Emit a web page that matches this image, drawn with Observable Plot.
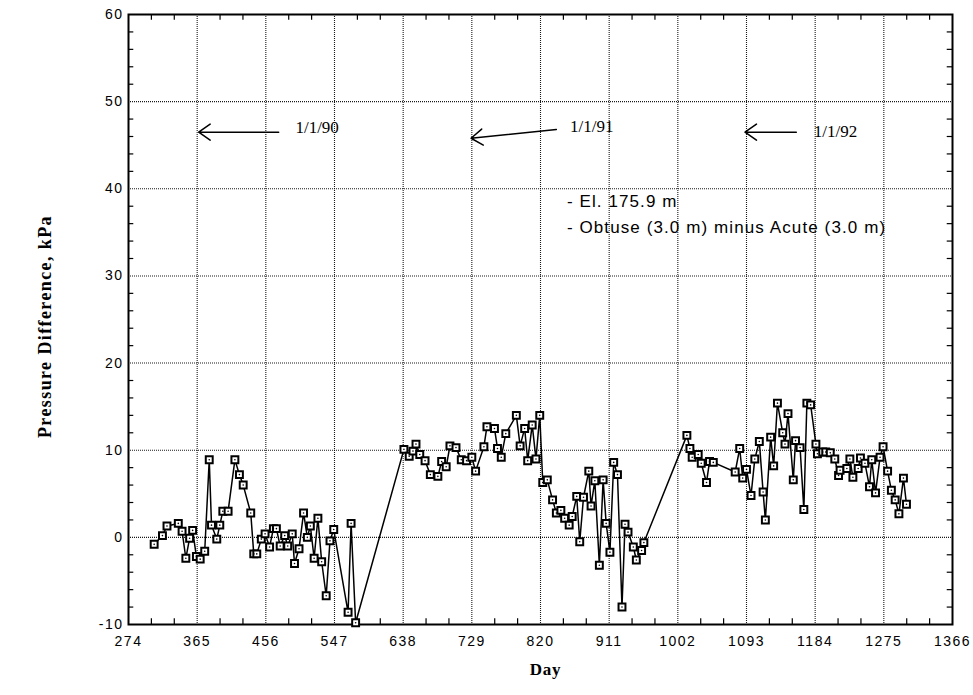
<!DOCTYPE html>
<html>
<head>
<meta charset="utf-8">
<script src="https://cdn.jsdelivr.net/npm/d3@7"></script>
<script src="https://cdn.jsdelivr.net/npm/@observablehq/plot@0.6"></script>
<style>
  html, body { margin: 0; padding: 0; background: #fff; }
  g[aria-label="x-axis tick label"] text, g[aria-label="y-axis tick label"] text { letter-spacing: 1.5px; }
</style>
</head>
<body>
<div id="chart"></div>
<script>
// ---- data ----
const days = [308, 319, 325, 340, 345, 350, 355, 359, 364, 369, 375, 381, 384, 391, 395, 399, 406, 415, 421, 426, 436, 440, 444, 450, 455, 461, 466, 470, 475, 481, 485, 491, 494, 500, 506, 511, 515, 520, 525, 530, 536, 541, 546, 565, 569, 575,
  639, 646, 651, 655, 660, 667, 674, 684, 689, 695, 700, 708, 715, 722, 729, 734, 745, 749, 759, 763, 768, 774, 788, 793, 799, 803, 809, 814, 819, 823, 829, 836, 841, 847, 852, 858, 862, 868, 872, 877, 884, 887, 892, 898, 903, 907, 912, 917, 922, 928, 932, 936, 943, 947, 954, 957,
  1014, 1018, 1021, 1029, 1033, 1040, 1044, 1049, 1078, 1084, 1088, 1093, 1099, 1104, 1110, 1115, 1118, 1125, 1129, 1134, 1141, 1144, 1148, 1155, 1158, 1164, 1169, 1173, 1178, 1185, 1187, 1194, 1198, 1204, 1210, 1215, 1217, 1226, 1230, 1234, 1241, 1244, 1250, 1256, 1259, 1264, 1270, 1274, 1280, 1285, 1290, 1295, 1301, 1305];
const kPa = [-0.8, 0.2, 1.3, 1.6, 0.7, -2.4, -0.1, 0.8, -2.2, -2.5, -1.6, 8.9, 1.4, -0.2, 1.4, 3.0, 3.0, 8.9, 7.2, 6.0, 2.8, -1.9, -1.9, -0.2, 0.4, -1.1, 1.0, 1.0, -1.0, 0.2, -1.0, 0.4, -3.0, -1.3, 2.8, 0.0, 1.3, -2.4, 2.2, -2.8, -6.7, -0.4, 0.9, -8.6, 1.6, -9.8,
  10.1, 9.3, 9.9, 10.7, 9.5, 8.8, 7.2, 7.0, 8.7, 8.1, 10.5, 10.3, 8.9, 8.8, 9.2, 7.6, 10.4, 12.7, 12.5, 10.2, 9.2, 11.9, 14.0, 10.5, 12.5, 8.8, 12.9, 9.0, 14.0, 6.3, 6.6, 4.3, 2.8, 3.1, 2.2, 1.4, 2.4, 4.7, -0.5, 4.6, 7.6, 3.6, 6.5, -3.2, 6.6, 1.6, -1.7, 8.6, 7.2, -8.0, 1.5, 0.6, -1.1, -2.6, -1.5, -0.6,
  11.7, 10.2, 9.2, 9.5, 8.5, 6.3, 8.7, 8.6, 7.5, 10.2, 6.8, 7.8, 4.8, 9.0, 11.0, 5.2, 2.0, 11.5, 8.2, 15.4, 12.0, 10.7, 14.2, 6.6, 11.1, 10.3, 3.2, 15.4, 15.2, 10.7, 9.6, 9.8, 9.8, 9.7, 9.0, 7.1, 7.7, 7.9, 9.0, 6.9, 7.9, 9.1, 8.5, 5.8, 8.9, 5.1, 9.2, 10.4, 7.6, 5.4, 4.3, 2.7, 6.8, 3.8];

const xTicks = [274, 365, 456, 547, 638, 729, 820, 911, 1002, 1093, 1184, 1275, 1366];
const yTicks = [-10, 0, 10, 20, 30, 40, 50, 60];

// annotations: date arrows (tip day/value, tail day/value, label anchor)
const dateLabels = ["1/1/90", "1/1/91", "1/1/92"];
const arrowTipDay = [367, 728, 1091];
const arrowTipVal = [46.5, 45.8, 46.5];
const arrowTailDay = [473, 841, 1159];
const arrowTailVal = [46.5, 46.8, 46.5];
const labelDay = [524, 888, 1211];
const labelVal = [47.0, 47.1, 46.6];
const noteLines = ["- El. 175.9 m", "- Obtuse (3.0 m) minus Acute (3.0 m)"];
const noteVal = [38.5, 35.6];
const noteDay = 855;
const yTitle = "Pressure Difference, kPa";
const xTitle = "Day";

// ---- build tables ----
const points = days.map((d, i) => ({day: d, kPa: kPa[i]}));
const arrows = dateLabels.map((t, i) => ({t, x1: arrowTailDay[i], y1: arrowTailVal[i], x2: arrowTipDay[i], y2: arrowTipVal[i], lx: labelDay[i], ly: labelVal[i]}));
const notes = noteLines.map((t, i) => ({t, x: noteDay, y: noteVal[i]}));
const yMinor = d3.range(-10, 61, 2).filter(v => v % 10 !== 0);
const xMinor = d3.range(0, 37).filter(i => i % 3 !== 0).map(i => 274 + i * 91 / 3);

const grid = {stroke: "#000", strokeWidth: 1.1, strokeOpacity: 0.9, strokeDasharray: "1,1"};
const serif = "'Liberation Serif', 'Times New Roman', serif";

const chart = Plot.plot({
  width: 973,
  height: 695,
  marginLeft: 128,
  marginRight: 21,
  marginTop: 14,
  marginBottom: 71,
  style: {fontFamily: "'Liberation Sans', Arial, sans-serif", fontSize: "14px", color: "#000", background: "#fff"},
  x: {domain: [274, 1366]},
  y: {domain: [-10, 60]},
  marks: [
    Plot.ruleX(xTicks.slice(1, -1), grid),
    Plot.ruleY(yTicks.slice(1, -1), grid),
    Plot.ruleY(yMinor, {x1: 274, x2: 281, stroke: "#000", strokeWidth: 1.2}),
    Plot.ruleY(yMinor, {x1: 1359, x2: 1366, stroke: "#000", strokeWidth: 1.2}),
    Plot.ruleX(xMinor, {y1: -10, y2: -9.35, stroke: "#000", strokeWidth: 1.2}),
    Plot.ruleX(xMinor, {y1: 59.35, y2: 60, stroke: "#000", strokeWidth: 1.2}),
    Plot.axisX({ticks: xTicks, tickSize: 0, tickPadding: 12, tickFormat: d => String(d), label: null}),
    Plot.axisY({ticks: yTicks, tickSize: 0, tickPadding: 5, tickFormat: d => String(d), label: null}),
    Plot.frame({stroke: "#000", strokeWidth: 2}),
    Plot.line(points, {x: "day", y: "kPa", stroke: "#000", strokeWidth: 1.5}),
    Plot.dot(points, {x: "day", y: "kPa", symbol: "square", r: 3.9, fill: "#fff", stroke: "#000", strokeWidth: 2}),
    Plot.dot(points, {x: "day", y: "kPa", r: 0.8, fill: "#000"}),
    Plot.arrow(arrows, {x1: "x1", y1: "y1", x2: "x2", y2: "y2", stroke: "#000", strokeWidth: 1.5, headLength: 14, headAngle: 70}),
    Plot.text(arrows, {x: "lx", y: "ly", text: "t", fontFamily: serif, fontSize: 17, fill: "#000"}),
    Plot.text(notes, {x: "x", y: "y", text: "t", textAnchor: "start", fontFamily: "'Liberation Sans', Arial, sans-serif", fontSize: 17, fill: "#000"}),
    Plot.text([yTitle], {frameAnchor: "left", textAnchor: "middle", dx: -83, dy: 7, rotate: -90, fontFamily: serif, fontWeight: "bold", fontSize: 18, fill: "#000"}),
    Plot.text([xTitle], {frameAnchor: "bottom", textAnchor: "middle", dy: 50, dx: 5, fontFamily: serif, fontWeight: "bold", fontSize: 17, fill: "#000"})
  ]
});
const spacing = new Map([[yTitle, "1.4px"], [xTitle, "0.8px"], [noteLines[0], "1.1px"], [noteLines[1], "1.1px"]]);
d3.select(chart).selectAll("text").each(function () {
  const s = spacing.get(this.textContent);
  if (s) this.style.letterSpacing = s;
});
document.getElementById("chart").appendChild(chart);
</script>
</body>
</html>
